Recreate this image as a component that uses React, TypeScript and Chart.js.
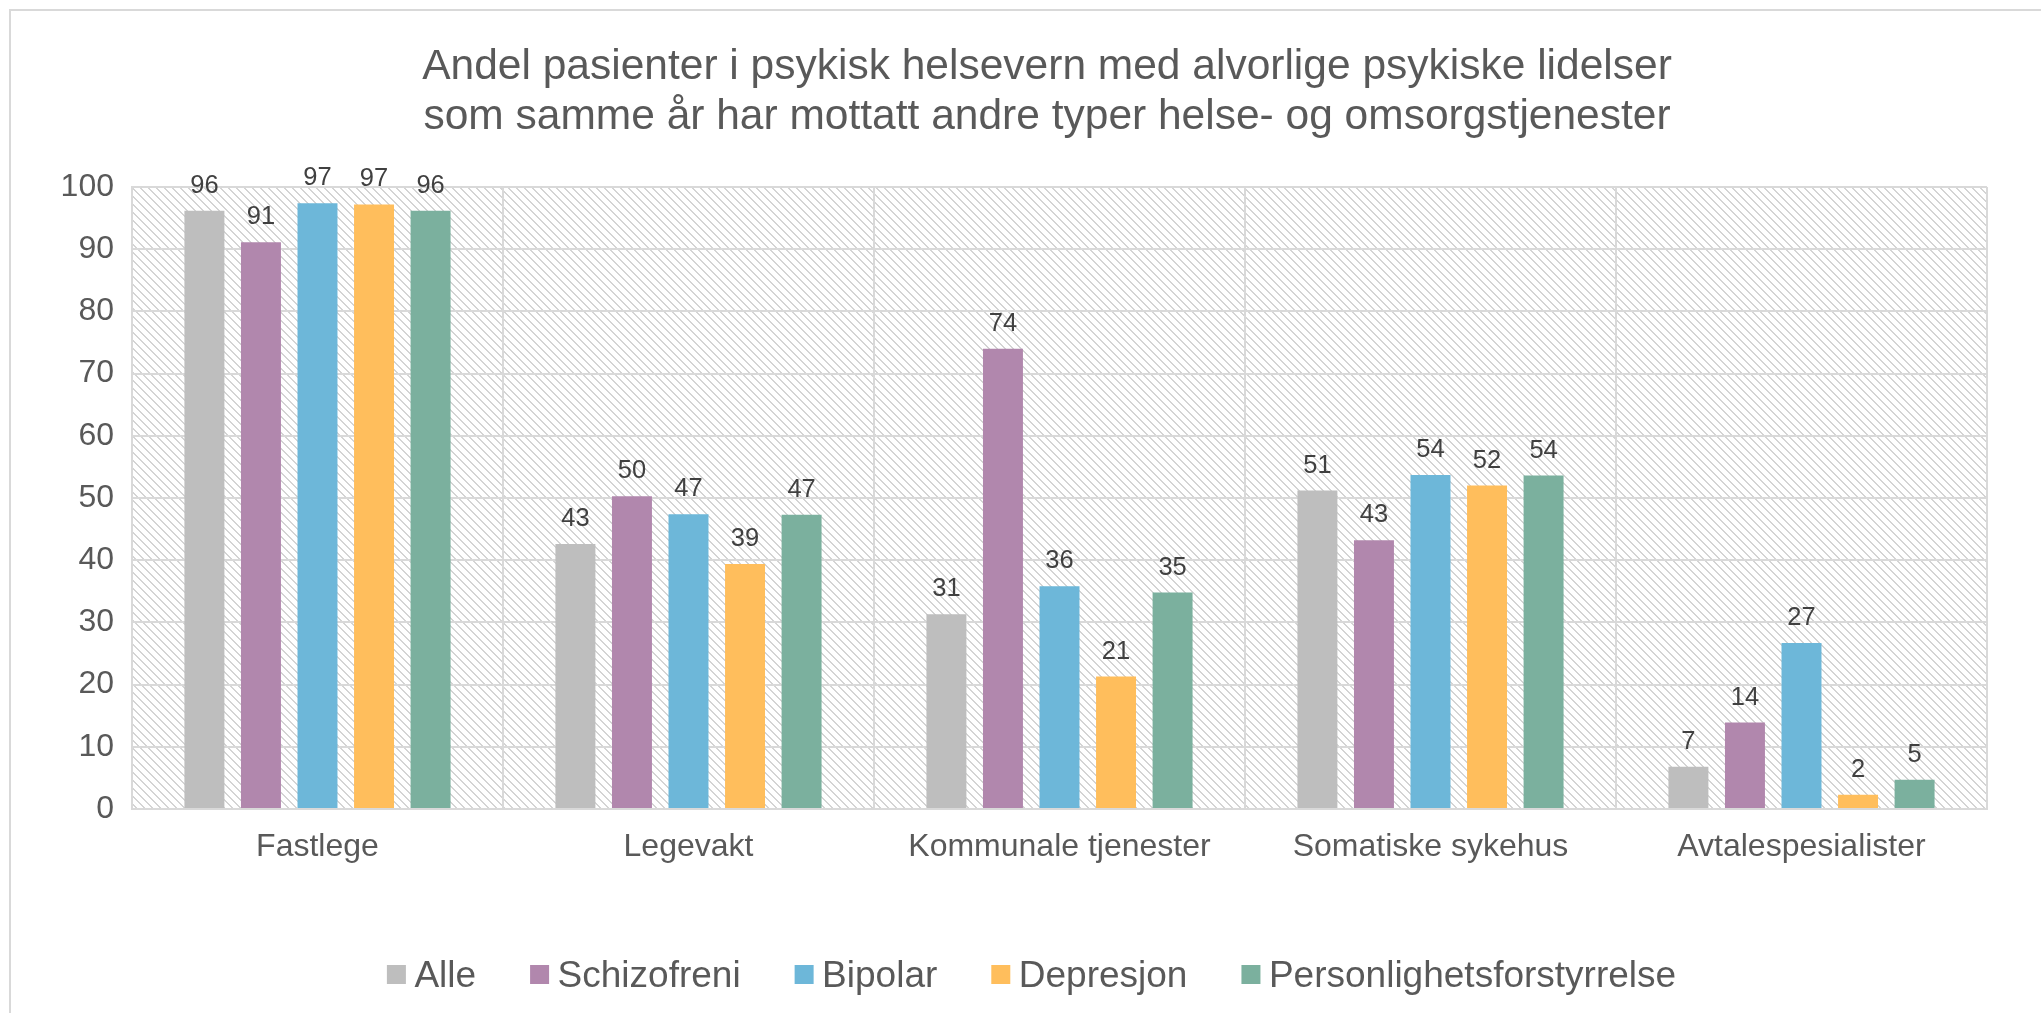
import React, { useEffect, useRef } from "react";
import { Chart, registerables } from "chart.js";

Chart.register(...registerables);

const titleLines = [
  "Andel pasienter i psykisk helsevern med alvorlige psykiske lidelser",
  "som samme år har mottatt andre typer helse- og omsorgstjenester",
];
const categories = [
  "Fastlege",
  "Legevakt",
  "Kommunale tjenester",
  "Somatiske sykehus",
  "Avtalespesialister",
];
const seriesNames = ["Alle", "Schizofreni", "Bipolar", "Depresjon", "Personlighetsforstyrrelse"];
const alle = [96.2, 42.6, 31.3, 51.2, 6.8];
const schizofreni = [91.1, 50.3, 74.0, 43.2, 13.9];
const bipolar = [97.4, 47.4, 35.8, 53.7, 26.7];
const depresjon = [97.2, 39.4, 21.3, 52.0, 2.3];
const personlighet = [96.2, 47.3, 34.8, 53.6, 4.7];
const seriesColors = ["#BEBEBE", "#B187AD", "#6DB7D9", "#FFBE5C", "#7BB09E"];
const yMin = 0;
const yMax = 100;
const yStep = 10;

const FONT = '"Liberation Sans", Arial, Helvetica, sans-serif';
const TEXT = "#595959";
const GRID = "#D9D9D9";

function makeHatch(ctx: CanvasRenderingContext2D): CanvasPattern | string {
  const t = document.createElement("canvas");
  t.width = 8;
  t.height = 8;
  const c = t.getContext("2d");
  if (!c) return "#fff";
  c.fillStyle = "#ffffff";
  c.fillRect(0, 0, 8, 8);
  c.fillStyle = "#d4d4d4";
  for (let i = 0; i < 8; i++) {
    c.fillRect(i, i, 1, 1);
    c.fillRect((i + 1) % 8, i, 1, 1);
  }
  return ctx.createPattern(t, "repeat") || "#fff";
}

export default function App() {
  const ref = useRef<HTMLCanvasElement>(null);

  useEffect(() => {
    const canvas = ref.current;
    if (!canvas) return;
    const ctx = canvas.getContext("2d");
    if (!ctx) return;
    const hatch = makeHatch(ctx);
    const values = [alle, schizofreni, bipolar, depresjon, personlighet];

    const bgPlugin = {
      id: "plotBg",
      beforeDraw(chart: any) {
        const { ctx, chartArea } = chart;
        const { left, top, right, bottom } = chartArea;
        ctx.save();
        ctx.fillStyle = hatch;
        ctx.fillRect(left, top, right - left, bottom - top);
        ctx.restore();
      },
    };

    const valueLabels = {
      id: "valueLabels",
      afterDatasetsDraw(chart: any) {
        const { ctx } = chart;
        ctx.save();
        ctx.font = `25.5px ${FONT}`;
        ctx.fillStyle = "#404040";
        ctx.textAlign = "center";
        ctx.textBaseline = "alphabetic";
        chart.data.datasets.forEach((ds: any, di: number) => {
          const meta = chart.getDatasetMeta(di);
          meta.data.forEach((el: any, i: number) => {
            const v = ds.data[i];
            ctx.fillText(String(Math.round(v)), el.x, el.y - 18);
          });
        });
        ctx.restore();
      },
    };

    const titlePlugin = {
      id: "customTitle",
      afterDraw(chart: any) {
        const { ctx } = chart;
        ctx.save();
        ctx.font = `42.5px ${FONT}`;
        ctx.fillStyle = TEXT;
        ctx.textAlign = "center";
        ctx.textBaseline = "alphabetic";
        ctx.fillText(titleLines[0], 1047, 79);
        ctx.fillText(titleLines[1], 1047, 129);
        ctx.restore();
      },
    };

    const legendPlugin = {
      id: "customLegend",
      afterDraw(chart: any) {
        const { ctx } = chart;
        const box = 19;
        const gapText = 8.5;
        const gapItem = 54;
        ctx.save();
        ctx.font = `37px ${FONT}`;
        const widths = chart.data.datasets.map((d: any) => ctx.measureText(d.label).width);
        const total =
          widths.reduce((a: number, b: number) => a + b, 0) +
          widths.length * (box + gapText) +
          (widths.length - 1) * gapItem;
        let x = 1031.5 - total / 2;
        const baseline = 987;
        chart.data.datasets.forEach((d: any, i: number) => {
          ctx.fillStyle = d.backgroundColor;
          ctx.fillRect(x, 965, box, box);
          x += box + gapText;
          ctx.fillStyle = TEXT;
          ctx.textAlign = "left";
          ctx.textBaseline = "alphabetic";
          ctx.fillText(d.label, x, baseline);
          x += widths[i] + gapItem;
        });
        ctx.restore();
      },
    };

    const chart = new Chart(ctx, {
      type: "bar",
      data: {
        labels: categories,
        datasets: seriesNames.map((name, i) => ({
          label: name,
          data: values[i],
          backgroundColor: seriesColors[i],
          borderWidth: 0,
          categoryPercentage: 0.762,
          barPercentage: 0.707,
        })),
      },
      options: {
        responsive: false,
        animation: false,
        devicePixelRatio: 1,
        layout: { padding: { left: 42.6, right: 54, top: 187, bottom: 127.6 } },
        plugins: {
          legend: { display: false },
          title: { display: false },
          tooltip: { enabled: false },
        },
        scales: {
          x: {
            grid: { color: GRID, lineWidth: 2, drawTicks: false, offset: true },
            border: { color: GRID, width: 2 },
            ticks: {
              color: TEXT,
              font: { family: FONT, size: 32 },
              padding: 19,
              maxRotation: 0,
              autoSkip: false,
            },
          },
          y: {
            min: yMin,
            max: yMax,
            ticks: {
              stepSize: yStep,
              color: TEXT,
              font: { family: FONT, size: 32 },
              padding: 18,
            },
            grid: { color: GRID, lineWidth: 2, drawTicks: false },
            border: { color: GRID, width: 2 },
          },
        },
      },
      plugins: [bgPlugin, valueLabels, titlePlugin, legendPlugin],
    });
    return () => chart.destroy();
  }, []);

  return (
    <div
      style={{
        position: "fixed",
        left: 0,
        top: 0,
        width: 2041,
        height: 1013,
        overflow: "hidden",
        background: "#ffffff",
      }}
    >
      <div
        style={{
          position: "absolute",
          left: 9,
          top: 9,
          width: 2100,
          height: 1100,
          border: "2px solid #D9D9D9",
          boxSizing: "border-box",
        }}
      />
      <canvas
        ref={ref}
        width={2041}
        height={1013}
        style={{ position: "absolute", left: 0, top: 0, width: 2041, height: 1013 }}
      />
    </div>
  );
}
